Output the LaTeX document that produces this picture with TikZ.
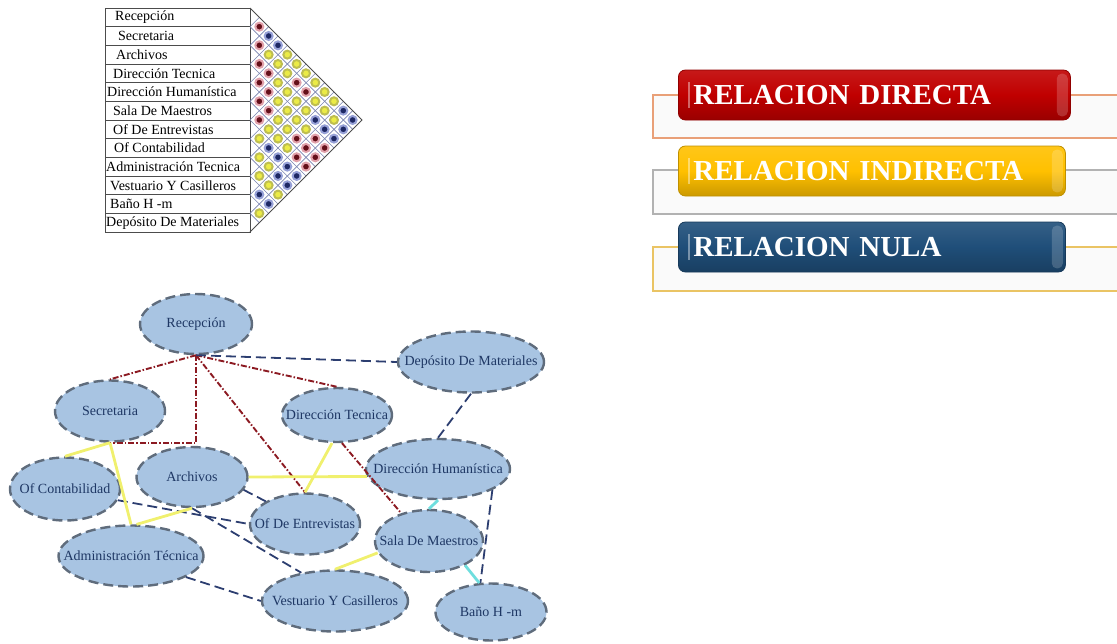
\documentclass[tikz,border=0pt]{standalone}
\usepackage{fontspec}
\setmainfont{Liberation Serif}
\usetikzlibrary{shapes.geometric, positioning}
\definecolor{nodefill}{RGB}{168,196,226}
\definecolor{nodeline}{RGB}{95,108,124}
\definecolor{nodetext}{RGB}{30,55,100}
\definecolor{directred}{RGB}{140,26,34}
\definecolor{indirectyellow}{RGB}{240,240,110}
\definecolor{nullblue}{RGB}{44,62,112}
\definecolor{linkcyan}{RGB}{110,222,222}
\definecolor{btnred}{RGB}{192,0,0}
\definecolor{btnyellow}{RGB}{255,192,0}
\definecolor{btnblue}{RGB}{31,78,121}
\definecolor{frameorange}{RGB}{233,160,120}
\definecolor{framegray}{RGB}{178,178,178}
\definecolor{framegold}{RGB}{234,196,100}
\definecolor{gridblue}{RGB}{120,130,175}
\definecolor{dotr}{RGB}{100,15,25}
\definecolor{doty}{RGB}{235,235,70}
\definecolor{dotb}{RGB}{30,40,100}
\definecolor{ringr}{RGB}{225,160,170}
\definecolor{ringy}{RGB}{190,190,80}
\definecolor{ringb}{RGB}{150,160,215}
\newcommand{\areatext}[1]{\makebox[0pt]{#1}}

\begin{document}
\begin{tikzpicture}[x=1pt, y=-1pt,
    area/.style={ellipse, draw=nodeline, fill=nodefill, line width=2.4pt, dash pattern=on 10pt off 5pt,
        inner sep=0pt, text=nodetext, font=\fontsize{14}{15}\selectfont},
    direct/.style={draw=directred, line width=1.9pt, dash pattern=on 6pt off 2pt on 1.5pt off 2pt},
    indirect/.style={draw=indirectyellow, line width=2.8pt},
    nulllink/.style={draw=nullblue, line width=1.8pt, dash pattern=on 10pt off 5pt},
    weak/.style={draw=linkcyan, line width=2.8pt},
    tableline/.style={draw=black!70, line width=0.8pt},
    gridline/.style={draw=gridblue, line width=0.6pt},
    rowtext/.style={anchor=west, inner sep=0pt, font=\fontsize{14}{15}\selectfont},
    dot/.style={circle, inner sep=0pt, minimum size=8pt, line width=2pt},
    button/.style={anchor=west, rounded corners=7pt, draw=#1!75!black, line width=0.8pt,
        top color=#1!90!white, bottom color=#1!80!black, middle color=#1, text=white,
        inner xsep=15pt, minimum height=50pt, align=left, font=\fontsize{29}{30}\selectfont\bfseries}]
    \useasboundingbox (0,0) rectangle (1117,643);

    % relation matrix
    \foreach \name/\dx [count=\i from 0] in {Recepción/115, Secretaria/118, Archivos/116,
        Dirección Tecnica/113, Dirección Humanística/107, Sala De Maestros/113,
        Of De Entrevistas/113, Of Contabilidad/114, Administración Tecnica/106,
        Vestuario Y Casilleros/110, Baño H -m/110, Depósito De Materiales/106} {
        \draw[tableline] (105, {8+18.67*\i}) rectangle (250, {8+18.67*(\i+1)});
        \node[rowtext] (row\i) at (\dx, {8+18.67*(\i+0.5)}) {\name};
    }
    \foreach \k in {1,...,11} {
        \draw[gridline] (250, {8+18.67*\k}) -- ++({9.33*\k}, {-9.33*\k});
        \draw[gridline] (250, {8+18.67*\k}) -- ++({9.33*(12-\k)}, {9.33*(12-\k)});
    }
    \draw[tableline] (250,8) -- (362,120) -- (250,232);
    \foreach \i/\j/\c in {0/1/r,1/2/r,2/3/r,3/4/r,4/5/r,5/6/r,6/7/y,7/8/y,8/9/y,9/10/b,10/11/y,
        0/2/b,1/3/y,2/4/r,3/5/r,4/6/r,5/7/y,6/8/b,7/9/y,8/10/y,9/11/b,
        0/3/b,1/4/y,2/5/y,3/6/y,4/7/y,5/8/y,6/9/b,7/10/b,8/11/y,
        0/4/y,1/5/y,2/6/y,3/7/y,4/8/y,5/9/y,6/10/b,7/11/b,
        0/5/y,1/6/r,2/7/y,3/8/y,4/9/r,5/10/r,6/11/b,
        0/6/y,1/7/r,2/8/y,3/9/y,4/10/r,5/11/r,
        0/7/y,1/8/y,2/9/b,3/10/r,4/11/r,
        0/8/y,1/9/y,2/10/b,3/11/r,
        0/9/y,1/10/y,2/11/b,
        0/10/b,1/11/b,
        0/11/b}
        \node[dot, fill=dot\c, draw=ring\c] (m\i-\j) at ({250+9.33*(\j-\i)}, {8+9.33*(\i+\j+1)}) {};

    % legend
    \draw[frameorange, line width=1.8pt, fill=black!2] (1130,95) -- (653,95) -- (653,138) -- (1130,138);
    \draw[framegray, line width=1.8pt, fill=black!2] (1130,170) -- (653,170) -- (653,214) -- (1130,214);
    \draw[framegold, line width=1.8pt, fill=black!2] (1130,247) -- (653,247) -- (653,291) -- (1130,291);
    \node[button=btnred, text width=362pt] (directa) at (678,95) {RELACION DIRECTA};
    \node[button=btnyellow, text width=357pt] (indirecta) at (678,171) {RELACION INDIRECTA};
    \node[button=btnblue, text width=357pt] (nula) at (678,247) {RELACION NULA};
    \foreach \b in {directa, indirecta, nula} {
        \fill[white, opacity=0.18, rounded corners=5pt] ([xshift=-14pt, yshift=-4pt]\b.north east) rectangle ([xshift=-3pt, yshift=4pt]\b.south east);
        \fill[white, opacity=0.4] ([xshift=10pt, yshift=-12pt]\b.north west) rectangle ([xshift=12pt, yshift=12pt]\b.south west);
    }

    % relation graph
    \node[area, minimum width=112pt, minimum height=60pt] (rec) at (196,324) {\areatext{Recepción}};
    \node[area, minimum width=146pt, minimum height=61pt] (dep) at (471,362) {\areatext{Depósito De Materiales}};
    \node[area, minimum width=110pt, minimum height=61pt] (sec) at (110,411) {\areatext{Secretaria}};
    \node[area, minimum width=110pt, minimum height=54pt] (dt) at (337,415) {\areatext{Dirección Tecnica}};
    \node[area, minimum width=111pt, minimum height=60pt] (arc) at (192,477) {\areatext{Archivos}};
    \node[area, minimum width=144pt, minimum height=60pt] (dh) at (438,469) {\areatext{Dirección Humanística}};
    \node[area, minimum width=110pt, minimum height=63pt] (ofc) at (65,489) {\areatext{Of Contabilidad}};
    \node[area, minimum width=110pt, minimum height=61pt] (ofe) at (305,524) {\areatext{Of De Entrevistas}};
    \node[area, minimum width=108pt, minimum height=62pt] (sdm) at (429,541) {\areatext{Sala De Maestros}};
    \node[area, minimum width=145pt, minimum height=61pt] (adm) at (131,556) {\areatext{Administración Técnica}};
    \node[area, minimum width=146pt, minimum height=61pt] (ves) at (335,601) {\areatext{Vestuario Y Casilleros}};
    \node[area, minimum width=111pt, minimum height=57pt] (bano) at (491,612) {\areatext{Baño H -m}};

    % direct
    \draw[direct] (rec.south) -- (sec.north);
    \draw[direct] (rec.south) |- (sec.south);
    \draw[direct] (rec.south) -- (ofe.north);
    \draw[direct] (rec.south) -- (dt.north);
    \draw[direct] (dt.-80) -- (sdm.135);
    % null
    \draw[nulllink] (rec.south) -- (dep.west);
    \draw[nulllink] (dep.south) -- (dh.north);
    \draw[nulllink] (dh.-21) -- (bano.110);
    \draw[nulllink] (ofc.-12) -- (ofe.west);
    \draw[nulllink] (arc.-14) -- (ofe.150);
    \draw[nulllink] (arc.south) -- (ves.140);
    \draw[nulllink] (adm.-21) -- (ves.west);
    % indirect
    \draw[indirect] (sec.south) -- (ofc.north);
    \draw[indirect] (sec.south) -- (adm.north);
    \draw[indirect] (arc.south) -- (adm.80);
    \draw[indirect] (arc.east) -- (dh.186);
    \draw[indirect] (dt.-100) -- (ofe.north);
    \draw[indirect] (sdm.193) -- (ves.north);
    % cyan links
    \draw[weak] (dh.south) -- (sdm.north);
    \draw[weak] (sdm.-34) -- (bano.112);
\end{tikzpicture}
\end{document}
